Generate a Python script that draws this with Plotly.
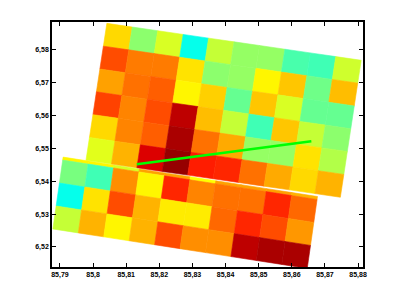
import plotly.graph_objects as go
from plotly.colors import sample_colorscale

# value grids (0..1 on a jet scale), rows top to bottom, columns left to right
upper_values = [
    [.68, .52, .60, .38, .58, .53, .53, .45, .44, .59],
    [.83, .78, .78, .67, .52, .53, .65, .70, .49, .71],
    [.74, .79, .81, .65, .69, .48, .70, .60, .48, .48],
    [.84, .77, .83, .966, .71, .58, .44, .70, .58, .52],
    [.68, .77, .81, .983, .79, .73, .53, .53, .67, .56],
    [.61, .72, .94, 1.0, .88, .87, .79, .73, .68, .72],
]
lower_values = [
    [.65, .65, .60, .74, .74, .64, .74, .74, .74, .72],
    [.50, .44, .76, .65, .87, .77, .79, .79, .87, .80],
    [.38, .67, .83, .72, .66, .66, .80, .87, .83, .75],
    [.58, .72, .65, .72, .83, .76, .76, .966, .983, .983],
]

# swath geometry in lon/lat degrees
upper_origin = (85.80416, 6.58809)
upper_col_step = (0.00768, -0.001125)
upper_row_step = (-0.00105, -0.00695)
upper_row_edges = [0, 1, 2, 3, 4, 5, 6]

lower_origin = (85.79096, 6.54736)
lower_col_step = (0.00768, -0.00120)
lower_row_step = (-0.00099, -0.00699)
lower_row_edges = [0, 0.13, 1.13, 2.13, 3.13]

track_lon = [85.8132, 85.8659]
track_lat = [6.5452, 6.5522]

x_ticks = [85.79, 85.80, 85.81, 85.82, 85.83, 85.84, 85.85, 85.86, 85.87, 85.88]
x_labels = ["85,79", "85,8", "85,81", "85,82", "85,83", "85,84", "85,85", "85,86", "85,87", "85,88"]
y_ticks = [6.52, 6.53, 6.54, 6.55, 6.56, 6.57, 6.58]
y_labels = ["6,52", "6,53", "6,54", "6,55", "6,56", "6,57", "6,58"]

jet = [
    [0.0, "rgb(0,0,128)"], [0.11, "rgb(0,0,255)"], [0.125, "rgb(0,0,255)"],
    [0.35, "rgb(0,219,255)"], [0.375, "rgb(0,255,240)"], [0.64, "rgb(255,255,0)"],
    [0.91, "rgb(255,0,0)"], [1.0, "rgb(150,0,0)"],
]


def add_swath(fig, values, origin, col_step, row_step, row_edges):
    for r, row in enumerate(values):
        for c, v in enumerate(row):
            corners = [(c, row_edges[r]), (c + 1, row_edges[r]),
                       (c + 1, row_edges[r + 1]), (c, row_edges[r + 1]),
                       (c, row_edges[r])]
            xs = [origin[0] + i * col_step[0] + j * row_step[0] for i, j in corners]
            ys = [origin[1] + i * col_step[1] + j * row_step[1] for i, j in corners]
            color = sample_colorscale(jet, [v])[0]
            fig.add_trace(go.Scatter(x=xs, y=ys, mode="lines", fill="toself",
                                     fillcolor=color, line=dict(color=color, width=0.6),
                                     hoverinfo="skip", showlegend=False))


fig = go.Figure()
add_swath(fig, lower_values, lower_origin, lower_col_step, lower_row_step, lower_row_edges)
add_swath(fig, upper_values, upper_origin, upper_col_step, upper_row_step, upper_row_edges)
fig.add_trace(go.Scatter(x=track_lon, y=track_lat, mode="lines",
                         line=dict(color="rgb(0,255,0)", width=2.5),
                         hoverinfo="skip", showlegend=False))

axis_style = dict(showgrid=False, zeroline=False, showline=True, linecolor="black",
                  linewidth=1.5, mirror="allticks", ticks="inside", ticklen=4,
                  tickwidth=1, tickcolor="black",
                  tickfont=dict(family="Liberation Sans", size=7, color="black", weight="bold"))
fig.update_xaxes(range=[85.7876, 85.8815], tickmode="array", tickvals=x_ticks,
                 ticktext=x_labels, **axis_style)
fig.update_yaxes(range=[6.5139, 6.5885], tickmode="array", tickvals=y_ticks,
                 ticktext=y_labels, **axis_style)
fig.update_layout(width=392, height=292, autosize=False, plot_bgcolor="white",
                  paper_bgcolor="white", showlegend=False,
                  margin=dict(l=44, r=37, t=14, b=33, pad=0))
fig.write_html("out.html", config=dict(displayModeBar=False))
